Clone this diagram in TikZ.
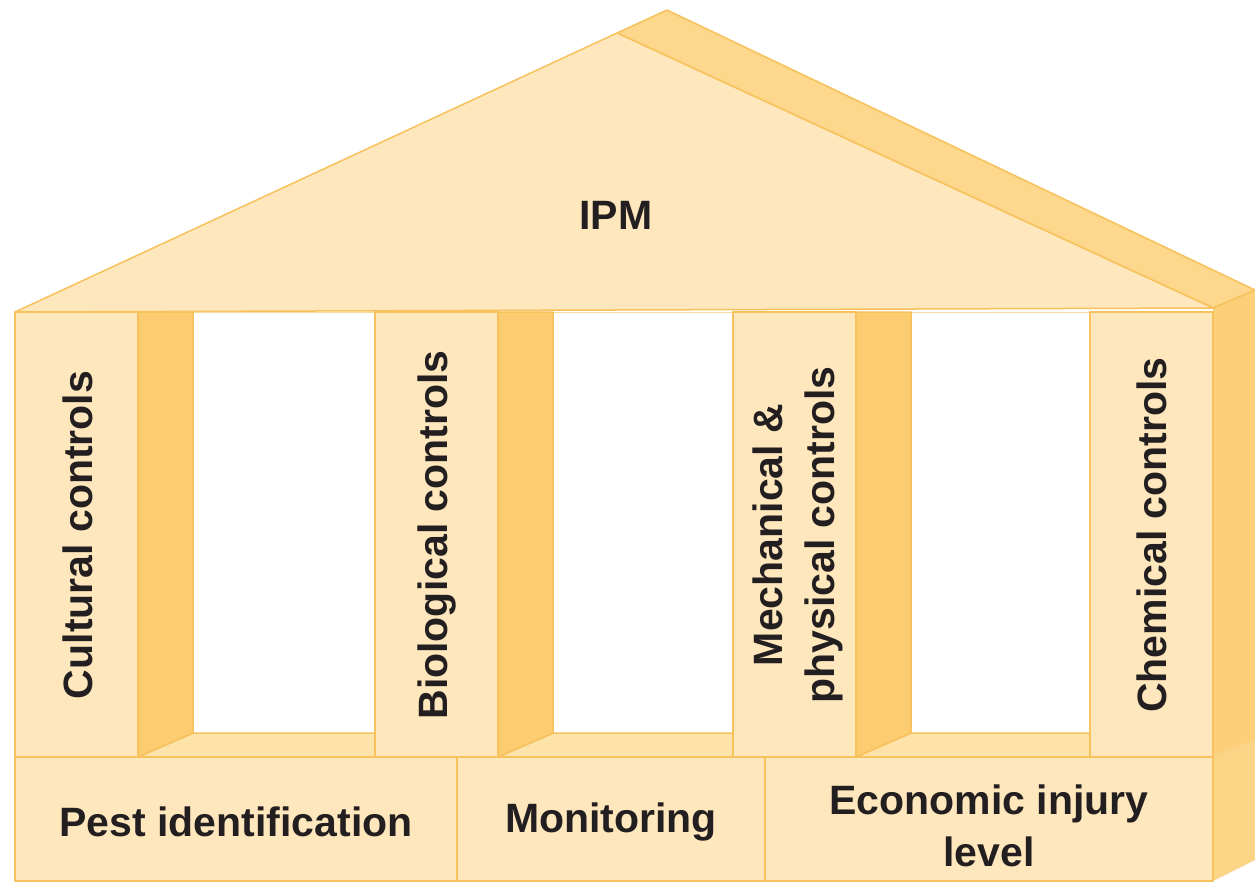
\documentclass[tikz,border=0pt]{standalone}
\usepackage{fontspec}
\setmainfont{Liberation Sans}
\usepackage{tikz}
\definecolor{facefill}{RGB}{254,231,188}
\definecolor{depthfill}{RGB}{252,204,112}
\definecolor{rooffill}{RGB}{252,215,140}
\definecolor{floorfill}{RGB}{253,226,170}
\definecolor{sidefill}{RGB}{252,207,120}
\definecolor{edgeorange}{RGB}{247,193,92}
\definecolor{inkgrey}{RGB}{35,31,32}

\begin{document}
\begin{tikzpicture}[x=1pt, y=-1pt,
  face/.style={fill=facefill, draw=edgeorange, line width=1.5pt, line join=round},
  depth/.style={fill=depthfill, draw=edgeorange, line width=1.5pt, line join=round},
  roof/.style={fill=rooffill, draw=edgeorange, line width=1.5pt, line join=round},
  floor/.style={fill=floorfill, draw=edgeorange, line width=1.5pt, line join=round},
  opening/.style={fill=white, draw=edgeorange!60, line width=1pt},
  lbl/.style={font=\fontsize{41}{52}\selectfont\bfseries, text=inkgrey, align=center},
]
  \useasboundingbox (0,0) rectangle (1255,881);

  % Right side of the building
  \fill[sidefill] (1213,308) -- (1255,290) -- (1255,740) -- (1213,757) -- cycle;
  \fill[sidefill!80!facefill] (1213,757) -- (1255,740) -- (1255,860) -- (1213,881) -- cycle;
  \draw[edgeorange!70, line width=1pt] (1213,757) -- (1255,740);

  % Roof
  \draw[roof] (617,33) -- (667,10) -- (1255,290) -- (1213,308) -- cycle;
  \draw[face] (15,312) -- (617,33) -- (1213,308) -- cycle;

  % Depth strips, floors and openings between the pillars
  \foreach \cx/\nx in {15/375, 375/733, 733/1090} {
    \draw[opening] (\cx+178,312) rectangle (\nx,733);
    \draw[floor] (\cx+123,757) -- (\cx+178,733) -- (\nx,733) -- (\nx,757) -- cycle;
    \draw[depth] (\cx+123,312) -- (\cx+178,312) -- (\cx+178,733) -- (\cx+123,757) -- cycle;
  }

  % Pillars
  \foreach \cx in {15, 375, 733, 1090} {
    \draw[face] (\cx,312) rectangle ++(123,445);
  }

  % Base
  \draw[face] (15,757) rectangle (1213,881);
  \draw[edgeorange, line width=1.5pt] (457,757) -- (457,881);
  \draw[edgeorange, line width=1.5pt] (765,757) -- (765,881);

  % Texts
  \node[lbl] (ipm) at (616,215) {IPM};
  \node[lbl, rotate=90] (cult) at (78,535) {Cultural controls};
  \node[lbl, rotate=90] (bio) at (437,535) {Biological controls};
  \node[lbl, rotate=90] (mech) at (798,535) {Mechanical \&\\physical controls};
  \node[lbl, rotate=90] (chem) at (1152,535) {Chemical controls};
  \node[lbl] (pest) at (236,822) {Pest identification};
  \node[lbl] (monit) at (611,822) {Monitoring};
  \node[lbl] (eil) at (989,826) {Economic injury\\level};
\end{tikzpicture}
\end{document}
